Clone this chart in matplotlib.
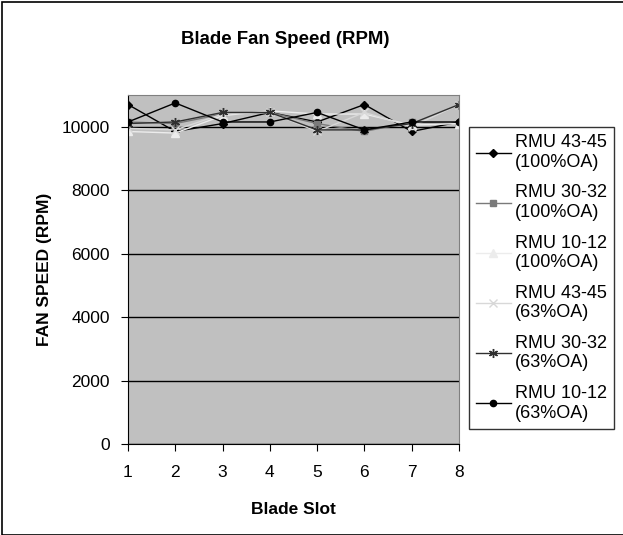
import matplotlib.pyplot as plt
from matplotlib.patches import Rectangle

plt.rcParams['font.family'] = ['Liberation Sans', 'DejaVu Sans']

slots = [1, 2, 3, 4, 5, 6, 7, 8]
rmu4345_100 = [10700, 9850, 10100, 10450, 10150, 10700, 9850, 10150]
rmu3032_100 = [10150, 10100, 10400, 10450, 10100, 9850, 10150, 10100]
rmu1012_100 = [9850, 9800, 10350, 10500, 10400, 10400, 10050, 10100]
rmu4345_63 = [9950, 9900, 10400, 10450, 9850, 10450, 10000, 10700]
rmu3032_63 = [10100, 10150, 10450, 10450, 9900, 9900, 10100, 10700]
rmu1012_63 = [10150, 10750, 10150, 10150, 10450, 9900, 10150, 10150]

labels = ['RMU 43-45\n(100%OA)', 'RMU 30-32\n(100%OA)', 'RMU 10-12\n(100%OA)',
          'RMU 43-45\n(63%OA)', 'RMU 30-32\n(63%OA)', 'RMU 10-12\n(63%OA)']
series = [rmu4345_100, rmu3032_100, rmu1012_100, rmu4345_63, rmu3032_63, rmu1012_63]
colors = ['#000000', '#7a7a7a', '#ececec', '#d8d8d8', '#303030', '#000000']
markers = ['D', 's', '^', 'x', (6, 2, 0), 'o']
msizes = [4.5, 4.5, 5.5, 5.5, 6.5, 4.5]

fig = plt.figure(figsize=(6.23, 5.35), dpi=100)
ax = fig.add_axes([128 / 623, 91 / 535, 331 / 623, 349 / 535])
ax.set_facecolor('#c0c0c0')

for y, lab, c, m, ms in zip(series, labels, colors, markers, msizes):
    ax.plot(slots, y, color=c, marker=m, markersize=ms, linewidth=1,
            markeredgecolor=c, label=lab)

ax.set_xlim(1, 8)
ax.set_ylim(0, 11000)
ax.set_yticks(range(0, 10001, 2000))
ax.set_xticks(slots)
ax.yaxis.grid(True, color='black', linewidth=1)
ax.set_axisbelow(True)
for s in ['top', 'right']:
    ax.spines[s].set_color('#808080')
for s in ['left', 'bottom']:
    ax.spines[s].set_color('black')
ax.tick_params(direction='out', length=5, labelsize=12.5, colors='black')
ax.tick_params(axis='x', pad=10)
ax.tick_params(axis='y', pad=8)

ax.set_xlabel('Blade Slot', fontsize=12.5, fontweight='bold', labelpad=16)
ax.set_ylabel('FAN SPEED (RPM)', fontsize=12.5, fontweight='bold', labelpad=7)
fig.text(285 / 623, 1 - 40 / 535, 'Blade Fan Speed (RPM)', ha='center', va='center',
         fontsize=13.4, fontweight='bold')

leg = fig.legend(loc='upper left', bbox_to_anchor=(469 / 623, 1 - 127 / 535),
                 fontsize=13, frameon=True, fancybox=False, edgecolor='black',
                 handlelength=1.9, labelspacing=0.75, borderpad=0.4,
                 handletextpad=0.25, borderaxespad=0)
leg.get_frame().set_linewidth(1)

fig.patches.append(Rectangle((2 / 623, 0), 2, 1 - 2 / 535, transform=fig.transFigure,
                             fill=False, edgecolor='black', linewidth=1.2))

fig.savefig('out.png', dpi=100)
